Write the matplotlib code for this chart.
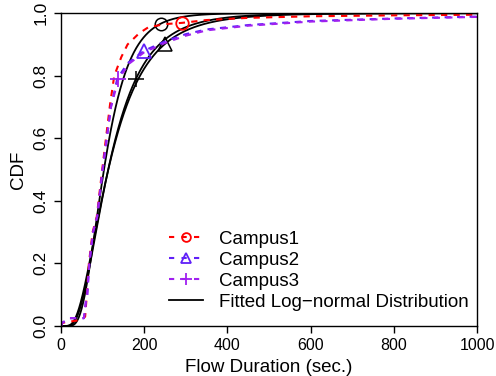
import math
import numpy as np
import matplotlib
matplotlib.use("Agg")
import matplotlib.pyplot as plt

plt.rcParams["font.family"] = ["Liberation Sans", "DejaVu Sans"]

c1_x = [0, 3, 50, 58, 62, 67, 76, 86, 99, 108, 118, 128, 145, 160, 188, 210, 250, 291, 350, 450, 600, 800, 1000]
c1_y = [0.0, 0.01, 0.02, 0.03, 0.1, 0.2, 0.3, 0.35, 0.5, 0.6, 0.71, 0.8, 0.86, 0.9, 0.936, 0.955, 0.965, 0.969, 0.978, 0.985, 0.99, 0.993, 0.995]

c2_x = [0, 3, 20, 55, 60, 63, 68, 77, 87, 100, 110, 120, 135, 160, 200, 250, 300, 350, 450, 600, 800, 1000]
c2_y = [0.0, 0.01, 0.025, 0.025, 0.08, 0.1, 0.2, 0.3, 0.35, 0.5, 0.6, 0.7, 0.79, 0.84, 0.88, 0.91, 0.933, 0.948, 0.962, 0.975, 0.983, 0.989]

c3_x = [0, 3, 20, 55, 60, 63, 68, 77, 87, 100, 110, 120, 138, 165, 200, 250, 300, 350, 450, 600, 800, 1000]
c3_y = [0.0, 0.01, 0.025, 0.025, 0.08, 0.1, 0.2, 0.3, 0.35, 0.5, 0.6, 0.7, 0.79, 0.84, 0.875, 0.905, 0.928, 0.945, 0.96, 0.973, 0.982, 0.988]

# fitted log-normal parameters (mu, sigma) per campus
fit_mu = [4.637, 4.733, 4.731]
fit_sigma = [0.46, 0.61, 0.573]

# marker positions
emp_mark_x = [291, 200, 138]
emp_mark_y = [0.969, 0.88, 0.79]
fit_mark_x = [240, 250, 180]

names = ["Campus1", "Campus2", "Campus3"]
colors = ["#ff0000", "#6020f8", "#a020f0"]
markers = ["o", "^", "+"]
msizes = [9, 10, 12]


def lognorm_cdf(x, mu, s):
    out = []
    for v in x:
        if v <= 0:
            out.append(0.0)
        else:
            out.append(0.5 * (1 + math.erf((math.log(v) - mu) / (s * math.sqrt(2)))))
    return np.array(out)


fig = plt.figure(figsize=(4.96, 3.76), dpi=100)
ax = fig.add_axes([0.123, 0.133, 0.839, 0.832])

xs = np.linspace(0.5, 1000, 2000)
for i in range(3):
    ax.plot(xs, lognorm_cdf(xs, fit_mu[i], fit_sigma[i]), color="black", lw=1.3)
    fx = fit_mark_x[i]
    ax.plot([fx], lognorm_cdf([fx], fit_mu[i], fit_sigma[i]), marker=markers[i], color="black",
            ms=msizes[i], mfc="none", mew=1.1, ls="none")

emp = [(c1_x, c1_y), (c2_x, c2_y), (c3_x, c3_y)]
handles = []
for i in range(3):
    ex, ey = emp[i]
    ax.plot(ex, ey, color=colors[i], lw=1.5, ls=(0, (3, 3)))
    ax.plot([emp_mark_x[i]], [emp_mark_y[i]], marker=markers[i], color=colors[i], ms=msizes[i],
            mfc="none", mew=1.3, ls="none")
    h, = ax.plot([], [], color=colors[i], lw=1.5, ls=(0, (2.5, 3.5)), marker=markers[i],
                 ms=msizes[i] * 0.7, mfc="none", mew=1.3)
    handles.append(h)
h, = ax.plot([], [], color="black", lw=1.3)
handles.append(h)

ax.legend(handles, names + ["Fitted Log\u2212normal Distribution"], loc="lower right",
          bbox_to_anchor=(1.0, 0.022), frameon=False, fontsize=13.5, handlelength=1.8,
          handletextpad=0.85, labelspacing=0.2, borderaxespad=0.05)

ax.set_xlim(0, 1000)
ax.set_ylim(0, 1)
ax.set_xticks([0, 200, 400, 600, 800, 1000])
ax.set_yticks([0.0, 0.2, 0.4, 0.6, 0.8, 1.0])
ax.set_yticklabels(["0.0", "0.2", "0.4", "0.6", "0.8", "1.0"], rotation=90, va="center")
ax.tick_params(length=5, width=1, direction="out", pad=4)
ax.tick_params(axis="x", labelsize=11.5)
ax.tick_params(axis="y", labelsize=12.5)
for sp in ax.spines.values():
    sp.set_linewidth(1.0)

ax.set_xlabel("Flow Duration (sec.)", fontsize=13.5, labelpad=4)
ax.set_ylabel("CDF", fontsize=13.5, labelpad=5)

fig.savefig("out.png", dpi=100)
